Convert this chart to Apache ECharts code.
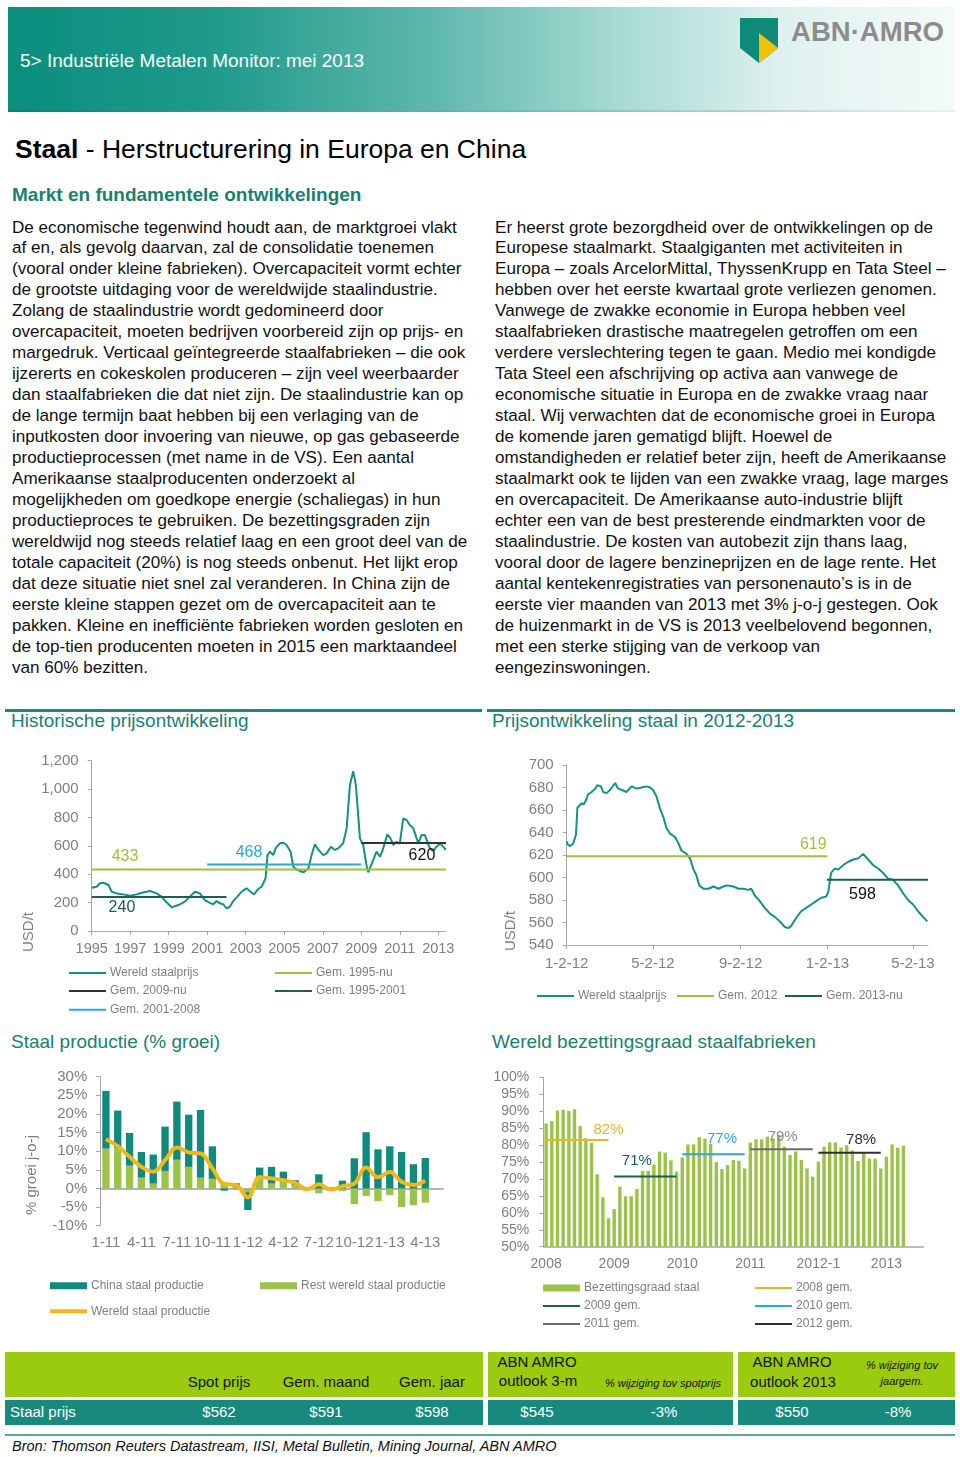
<!DOCTYPE html>
<html><head><meta charset="utf-8">
<script src="https://cdn.jsdelivr.net/npm/echarts/dist/echarts.min.js"></script>
<style>
html,body{margin:0;padding:0;background:#fff;}
body{width:960px;height:1457px;position:relative;overflow:hidden;font-family:"Liberation Sans",Arial,sans-serif;color:#000;}
.abs{position:absolute;}
.body{font-size:17.1px;line-height:20.95px;white-space:pre;color:#111;}
.sect{font-size:19px;color:#1a8070;}
.rule{position:absolute;height:3px;background:#1a8a7a;}
.chart{position:absolute;}
</style>
</head><body>
<script>
// ---------------- DATA ----------------
// Chart 1: historical world steel price (decimal year, USD/t)
const histPrice = [
 [1995.00,305],[1995.26,312],[1995.43,336],[1995.61,340],[1995.87,324],[1996.04,277],[1996.30,265],[1996.64,258],
 [1996.99,249],[1997.34,258],[1997.60,270],[1998.03,282],[1998.37,265],[1998.63,242],[1998.80,215],[1999.15,167],
 [1999.50,183],[1999.84,207],[2000.10,242],[2000.36,277],[2000.62,265],[2000.88,218],[2001.11,200],[2001.31,188],
 [2001.49,211],[2001.66,195],[2001.83,188],[2002.01,160],[2002.18,171],[2002.35,211],[2002.56,242],[2002.79,277],
 [2003.04,301],[2003.25,277],[2003.43,258],[2003.65,296],[2003.82,312],[2004.03,371],[2004.13,535],[2004.26,559],
 [2004.43,535],[2004.57,587],[2004.78,618],[2004.95,622],[2005.12,606],[2005.33,559],[2005.47,453],[2005.59,437],
 [2005.81,423],[2005.99,413],[2006.25,441],[2006.42,535],[2006.59,611],[2006.76,575],[2007.02,535],[2007.20,547],
 [2007.42,594],[2007.63,571],[2007.80,582],[2008.06,618],[2008.24,723],[2008.41,1029],[2008.58,1125],[2008.72,1029],
 [2008.84,817],[2008.93,653],[2009.10,606],[2009.27,465],[2009.36,413],[2009.62,500],[2009.79,559],[2009.97,523],
 [2010.14,582],[2010.35,681],[2010.52,653],[2010.66,606],[2010.83,629],[2011.00,615],[2011.18,794],[2011.35,782],
 [2011.52,747],[2011.70,723],[2011.96,618],[2012.13,676],[2012.30,676],[2012.56,582],[2012.73,564],[2012.91,594],
 [2013.11,618],[2013.25,594],[2013.39,571]
];
const histStartYear = 1995;
const histEndYear = 2013.4;
const histYearTicks = [1995,1997,1999,2001,2003,2005,2007,2009,2011,2013];
// averages
const histAvgNames = ['Gem. 1995-nu','Gem. 2009-nu','Gem. 1995-2001','Gem. 2001-2008'];
const histAvgValues = [433, 620, 240, 468];
const histAvgFrom = [1995.0, 2009.0, 1995.0, 2001.0];
const histAvgTo = [2013.4, 2013.4, 2002.0, 2009.0];
const histAvgLabelAt = [1996.73, 2012.15, 1996.57, 2003.17];

// Chart 2: price 2012-2013 (days since 2 Jan 2012, USD/t)
const recentDays = [0,2,5,9,13,15,18,21,24,28,30,35,40,43,48,51,56,61,68,72,77,84,91,98,105,112,117,121,126,131,136,140,145,152,157,161,168,173,178,182,186,192,199,206,213,220,225,234,241,248,255,259,264,271,278,285,292,299,306,311,315,322,329,336,343,350,357,364,367,371,376,381,388,395,402,409,416,423,430,437,444,451,458,465,472,479,486,493,500,506];
const recentPrice = [632,629,628,630,638,662,664,666,665,670,674,676,679,682,681,676,675,678,684,679,678,676,681,679,680,681,680,678,672,661,653,644,639,636,630,624,621,617,607,602,593,590,590,592,590,592,593,592,590,590,589,590,584,579,573,568,565,561,556,555,557,564,570,573,576,579,582,583,587,604,608,607,611,614,616,617,621,616,611,608,604,599,598,593,586,580,576,570,565,561];
const recentTickDays = [0,121,244,366,486];
const recentTickLabels = ['1-2-12','5-2-12','9-2-12','1-2-13','5-2-13'];
const recentAvgNames = ['Gem. 2012','Gem. 2013-nu'];
const recentAvgValues = [619, 598];
const recentAvgFrom = [0, 365];
const recentAvgTo = [366, 507];
const recentAvgLabelAt = [346, 415];

// Chart 3: steel production growth (% y-o-y)
const prodMonths = ['1-11','2-11','3-11','4-11','5-11','6-11','7-11','8-11','9-11','10-11','11-11','12-11',
 '1-12','2-12','3-12','4-12','5-12','6-12','7-12','8-12','9-12','10-12','11-12','12-12','1-13','2-13','3-13','4-13','5-13'];
const prodRest  = [10.7,11.0,6.1,2.9,1.3,4.7,7.7,5.8,2.9,2.6,1.2,0.8,-1.0,3.0,1.3,2.3,1.0,-0.4,-1.3,-0.5,-0.7,-4.2,-2.0,-3.4,-1.8,-5.0,-4.5,-3.8,null];
const prodChina = [15.5,9.9,8.8,6.9,7.8,11.9,15.6,14.0,18.2,8.7,-0.6,0.6,-4.8,2.6,4.5,2.2,1.2,0.4,3.8,0.3,2.1,8.1,15.1,10.5,11.3,9.8,6.5,8.2,null];
const prodWorld = [13.2,11.4,8.5,5.8,4.5,7.6,11.0,9.7,9.4,5.4,1.2,0.9,-2.4,3.0,2.7,2.2,1.5,-0.2,1.1,-0.3,0.6,1.3,5.6,3.0,4.4,1.8,0.9,2.1,null];

// Chart 4: capacity utilisation (%), monthly from 2008-01
const utilYears = [2008,2009,2010,2011,2012,2013];
const utilYearLabels = ['2008','2009','2010','2011','2012-1','2013'];
const utilValues = [86.4,87.1,90.2,90.4,90.1,90.6,85.6,82.0,80.7,71.4,64.6,58.4,
 61.1,67.7,64.9,64.9,67.0,72.4,72.4,74.3,78.1,77.8,75.5,72.2,
 76.3,80.2,80.2,82.3,81.9,80.3,75.0,72.9,74.1,75.6,75.4,73.1,
 80.7,81.7,81.7,82.5,82.0,83.0,79.5,77.1,78.1,75.6,73.1,70.7,
 75.1,79.5,80.8,80.8,79.3,80.0,78.4,75.3,77.6,76.0,76.0,73.1,
 76.6,80.2,79.2,79.8];
const utilMonthsTotal = 67;
const utilAvgNames = ['2008 gem.','2009 gem.','2010 gem.','2011 gem.','2012 gem.'];
const utilAvgValues = [81.5,70.7,77.3,78.8,77.7];
const utilAvgLabels = ['82%','71%','77%','79%','78%'];
const utilAvgLabelIdx = [11,16,31,41,55];

// Table
const tblHead = ['Spot prijs','Gem. maand','Gem. jaar'];
const tblRow = ['$562','$591','$598','$545','-3%','$550','-8%'];
</script>

<!-- header -->
<div class="abs" style="left:8px;top:7px;width:947px;height:105px;background:linear-gradient(to right,#0a8e7d 0%,#1f9a8b 22%,#5fb8ad 45%,#a9dbd4 65%,#dff1ee 82%,#f4fafa 100%);"></div>
<div class="abs" style="left:8px;top:110px;width:947px;height:2px;background:linear-gradient(to right,#0b7f70,#7cc3b9 60%,#e5f3f1);"></div>
<svg class="abs" style="left:0;top:0" width="960" height="120">
  <text x="20" y="67" font-family="Liberation Sans, Arial" font-size="18" fill="#fff" textLength="344" lengthAdjust="spacingAndGlyphs">5&gt; Industriële Metalen Monitor: mei 2013</text>
  <polygon points="740,18 778,18 778,48 759,63 740,48" fill="#0f8a78"/>
  <polygon points="759,33 778,48 759,63" fill="#f4c100"/>
  <text x="791" y="41" font-family="Liberation Sans, Arial" font-weight="bold" font-size="27" fill="#8c8c8c" textLength="153" lengthAdjust="spacingAndGlyphs">ABN·AMRO</text>
</svg>

<div class="abs" style="left:15px;top:133px;font-size:26.5px;line-height:32px;white-space:pre;"><b>Staal</b> - Herstructurering in Europa en China</div>
<div class="abs" style="left:12px;top:184px;font-size:19px;font-weight:bold;color:#1a7f6e;white-space:pre;">Markt en fundamentele ontwikkelingen</div>

<div class="abs body" style="left:12px;top:217.5px;">De economische tegenwind houdt aan, de marktgroei vlakt
af en, als gevolg daarvan, zal de consolidatie toenemen
(vooral onder kleine fabrieken). Overcapaciteit vormt echter
de grootste uitdaging voor de wereldwijde staalindustrie.
Zolang de staalindustrie wordt gedomineerd door
overcapaciteit, moeten bedrijven voorbereid zijn op prijs- en
margedruk. Verticaal geïntegreerde staalfabrieken – die ook
ijzererts en cokeskolen produceren – zijn veel weerbaarder
dan staalfabrieken die dat niet zijn. De staalindustrie kan op
de lange termijn baat hebben bij een verlaging van de
inputkosten door invoering van nieuwe, op gas gebaseerde
productieprocessen (met name in de VS). Een aantal
Amerikaanse staalproducenten onderzoekt al
mogelijkheden om goedkope energie (schaliegas) in hun
productieproces te gebruiken. De bezettingsgraden zijn
wereldwijd nog steeds relatief laag en een groot deel van de
totale capaciteit (20%) is nog steeds onbenut. Het lijkt erop
dat deze situatie niet snel zal veranderen. In China zijn de
eerste kleine stappen gezet om de overcapaciteit aan te
pakken. Kleine en inefficiënte fabrieken worden gesloten en
de top-tien producenten moeten in 2015 een marktaandeel
van 60% bezitten.</div>
<div class="abs body" style="left:495px;top:217.5px;">Er heerst grote bezorgdheid over de ontwikkelingen op de
Europese staalmarkt. Staalgiganten met activiteiten in
Europa – zoals ArcelorMittal, ThyssenKrupp en Tata Steel –
hebben over het eerste kwartaal grote verliezen genomen.
Vanwege de zwakke economie in Europa hebben veel
staalfabrieken drastische maatregelen getroffen om een
verdere verslechtering tegen te gaan. Medio mei kondigde
Tata Steel een afschrijving op activa aan vanwege de
economische situatie in Europa en de zwakke vraag naar
staal. Wij verwachten dat de economische groei in Europa
de komende jaren gematigd blijft. Hoewel de
omstandigheden er relatief beter zijn, heeft de Amerikaanse
staalmarkt ook te lijden van een zwakke vraag, lage marges
en overcapaciteit. De Amerikaanse auto-industrie blijft
echter een van de best presterende eindmarkten voor de
staalindustrie. De kosten van autobezit zijn thans laag,
vooral door de lagere benzineprijzen en de lage rente. Het
aantal kentekenregistraties van personenauto’s is in de
eerste vier maanden van 2013 met 3% j-o-j gestegen. Ook
de huizenmarkt in de VS is 2013 veelbelovend begonnen,
met een sterke stijging van de verkoop van
eengezinswoningen.</div>

<div class="rule" style="left:5px;top:709px;width:477px;"></div>
<div class="rule" style="left:487px;top:709px;width:468px;"></div>
<div class="abs sect" style="left:11px;top:710px;">Historische prijsontwikkeling</div>
<div class="abs sect" style="left:492px;top:710px;">Prijsontwikkeling staal in 2012-2013</div>
<div class="abs sect" style="left:11px;top:1031px;">Staal productie (% groei)</div>
<div class="abs sect" style="left:492px;top:1031px;">Wereld bezettingsgraad staalfabrieken</div>

<div id="c1" class="chart" style="left:0;top:745px;width:480px;height:285px;"></div>
<div id="c2" class="chart" style="left:490px;top:745px;width:470px;height:265px;"></div>
<div id="c3" class="chart" style="left:0;top:1060px;width:480px;height:270px;"></div>
<div id="c4" class="chart" style="left:490px;top:1060px;width:470px;height:275px;"></div>

<!-- table -->
<div class="abs" style="left:5px;top:1352px;width:478px;height:45px;background:#9acb0e;"></div>
<div class="abs" style="left:488px;top:1352px;width:245px;height:45px;background:#9acb0e;"></div>
<div class="abs" style="left:738px;top:1352px;width:217px;height:45px;background:#9acb0e;"></div>
<div class="abs" style="left:5px;top:1400px;width:478px;height:25px;background:#178a7d;"></div>
<div class="abs" style="left:488px;top:1400px;width:245px;height:25px;background:#178a7d;"></div>
<div class="abs" style="left:738px;top:1400px;width:217px;height:25px;background:#178a7d;"></div>
<div class="abs" style="left:5px;top:1434px;width:950px;height:2px;background:#5aa69d;"></div>
<div id="tbl"></div>
<div class="abs" style="left:12px;top:1438px;font-size:14.5px;font-style:italic;white-space:pre;color:#111;">Bron: Thomson Reuters Datastream, IISI, Metal Bulletin, Mining Journal, ABN AMRO</div>

<script>
// ---- table text ----
(function(){
  const t = document.getElementById('tbl');
  function put(txt, cx, cy, size, color, extra){
    const d = document.createElement('div');
    d.className='abs';
    d.style.cssText = 'left:'+(cx-100)+'px;width:200px;text-align:center;top:'+(cy-size*0.6)+'px;font-size:'+size+'px;line-height:'+(size*1.2)+'px;color:'+color+';white-space:pre;'+(extra||'');
    d.textContent = txt; t.appendChild(d);
  }
  const hx = [219,326,432];
  tblHead.forEach((h,i)=>put(h,hx[i],1382,15,'#111'));
  put('ABN AMRO',537,1362,15,'#111'); put('outlook 3-m',538,1381,15,'#111');
  put('% wijziging tov spotprijs',663,1384,11,'#111','font-style:italic;');
  put('ABN AMRO',792,1362,15,'#111'); put('outlook 2013',793,1382,15,'#111');
  put('% wijziging tov',902,1366,11,'#111','font-style:italic;'); put('jaargem.',902,1382,11,'#111','font-style:italic;');
  const d = document.createElement('div'); d.className='abs';
  d.style.cssText='left:10px;top:1403px;font-size:15px;color:#fff;'; d.textContent='Staal prijs'; t.appendChild(d);
  const rx = [219,326,432,537,664,792,898];
  tblRow.forEach((v,i)=>put(v,rx[i],1412,15,'#fff'));
})();

const GRAY = '#7f7f7f';
const AXC = '#a6a6a6';
const FONT = 'Liberation Sans, Arial';
const gridBase = {containLabel:false, outerBoundsMode:'none'};
function legendItem(name, left, cy, extra){
  return Object.assign({data:[name], left:left, top:cy-7, padding:0, itemWidth:37, itemHeight:2, icon:'rect',
    itemGap:0, textStyle:{color:GRAY, fontSize:12, fontFamily:FONT, padding:[0,0,0,-1]},
    selectedMode:false}, extra||{});
}
const lineBase = {type:'line', symbol:'circle', symbolSize:0.01, showSymbol:true, showAllSymbol:true, silent:true, z:3};

// ---------------- Chart 1 ----------------
(function(){
  const c = echarts.init(document.getElementById('c1'));
  const cols = ['#9fc13c','#333333','#1e5e55','#2ba6d6'];
  const labPos = ['top','bottom','bottom','top'];
  const labDist = [5,5,3,4];
  const avgSeries = histAvgNames.map((n,i)=>Object.assign({}, lineBase, {
    name:n, lineStyle:{color:cols[i], width:2}, itemStyle:{color:cols[i]},
    data:[[histAvgFrom[i]-histStartYear,histAvgValues[i]],
          {value:[histAvgLabelAt[i]-histStartYear,histAvgValues[i]], label:{show:true, position:labPos[i], distance:labDist[i], formatter:String(histAvgValues[i]), color: i===1?'#111':cols[i], fontSize:16, fontFamily:FONT}},
          [histAvgTo[i]-histStartYear,histAvgValues[i]]]
  }));
  c.setOption({
    animation:false,
    grid:Object.assign({left:91.7, top:15.7, width:354.3, height:170.3}, gridBase),
    xAxis:{type:'value', min:0, max:histEndYear-histStartYear,
      axisLine:{lineStyle:{color:AXC}}, splitLine:{show:false},
      axisTick:{customValues:histYearTicks.map(y=>y-histStartYear), length:4, lineStyle:{color:AXC}},
      axisLabel:{customValues:histYearTicks.map(y=>y-histStartYear), formatter:v=>String(Math.round(v+histStartYear)), color:GRAY, fontSize:14.5, margin:10, fontFamily:FONT}},
    yAxis:{type:'value', min:0, max:1200, interval:200,
      axisLine:{show:true, lineStyle:{color:AXC}}, splitLine:{show:false},
      axisTick:{show:true, length:4, lineStyle:{color:AXC}},
      axisLabel:{formatter:v=>v.toLocaleString('en-US'), color:GRAY, fontSize:15, margin:13, fontFamily:FONT}},
    legend:[
      legendItem('Wereld staalprijs',69,229),
      legendItem('Gem. 1995-nu',275,229),
      legendItem('Gem. 2009-nu',69,247),
      legendItem('Gem. 1995-2001',275,247),
      legendItem('Gem. 2001-2008',69,265.7)
    ],
    graphic:[{type:'text', x:29, y:187, rotation:Math.PI/2, style:{text:'USD/t', fill:GRAY, font:'15px Liberation Sans, Arial', align:'center', verticalAlign:'middle'}}],
    series:[{name:'Wereld staalprijs', type:'line', symbol:'none', z:2,
      lineStyle:{color:'#16917f', width:2}, itemStyle:{color:'#16917f'},
      data:histPrice.map(p=>[p[0]-histStartYear,p[1]])}].concat(avgSeries)
  });
})();

// ---------------- Chart 2 ----------------
(function(){
  const c = echarts.init(document.getElementById('c2'));
  const cols = ['#9fc13c','#1e5e55'];
  const labPos = ['top','bottom'];
  const labDist = [4,7];
  const avgSeries = recentAvgNames.map((n,i)=>Object.assign({}, lineBase, {
    name:n, lineStyle:{color:cols[i], width:2}, itemStyle:{color:cols[i]},
    data:[[recentAvgFrom[i],recentAvgValues[i]],
      {value:[recentAvgLabelAt[i],recentAvgValues[i]], label:{show:true, position:labPos[i], distance:labDist[i], formatter:String(recentAvgValues[i]), color: i===1?'#111':cols[i], fontSize:16, fontFamily:FONT}},
      [recentAvgTo[i],recentAvgValues[i]]]
  }));
  c.setOption({
    animation:false,
    grid:Object.assign({left:76.7, top:20, width:361.3, height:180}, gridBase),
    xAxis:{type:'value', min:0, max:507,
      axisLine:{lineStyle:{color:AXC}}, splitLine:{show:false},
      axisTick:{customValues:recentTickDays, length:4, lineStyle:{color:AXC}},
      axisLabel:{customValues:recentTickDays, formatter:v=>recentTickLabels[recentTickDays.indexOf(v)]||'', color:GRAY, fontSize:15, margin:11, fontFamily:FONT}},
    yAxis:{type:'value', min:540, max:700, interval:20,
      axisLine:{show:true, lineStyle:{color:AXC}}, splitLine:{show:false},
      axisTick:{show:true, length:4, lineStyle:{color:AXC}},
      axisLabel:{color:GRAY, fontSize:15, margin:13, fontFamily:FONT}},
    legend:[
      legendItem('Wereld staalprijs',47,252),
      legendItem('Gem. 2012',187,252),
      legendItem('Gem. 2013-nu',295,252)
    ],
    graphic:[{type:'text', x:21, y:186, rotation:Math.PI/2, style:{text:'USD/t', fill:GRAY, font:'15px Liberation Sans, Arial', align:'center', verticalAlign:'middle'}}],
    series:[{name:'Wereld staalprijs', type:'line', symbol:'none', z:2,
      lineStyle:{color:'#16917f', width:2}, itemStyle:{color:'#16917f'},
      data:recentDays.map((d,i)=>[d,recentPrice[i]])}].concat(avgSeries)
  });
})();

// ---------------- Chart 3 ----------------
(function(){
  const c = echarts.init(document.getElementById('c3'));
  c.setOption({
    animation:false,
    grid:Object.assign({left:100, top:16.7, width:343, height:149}, gridBase),
    xAxis:{type:'category', data:prodMonths, boundaryGap:true,
      axisLine:{onZero:true, lineStyle:{color:'#9a9a9a', width:1.5}},
      axisTick:{interval:2, length:4, lineStyle:{color:'#9a9a9a'}},
      axisLabel:{interval:2, color:GRAY, fontSize:15, margin:10, fontFamily:FONT, hideOverlap:false}},
    yAxis:{type:'value', min:-10, max:30, interval:5,
      axisLine:{show:true, lineStyle:{color:AXC}}, splitLine:{show:false},
      axisTick:{show:true, length:4, lineStyle:{color:AXC}},
      axisLabel:{formatter:v=>v+'%', color:GRAY, fontSize:15, margin:12.7, fontFamily:FONT}},
    legend:[
      legendItem('China staal productie',50,226.7,{itemHeight:7}),
      legendItem('Rest wereld staal productie',260,226.7,{itemHeight:7}),
      legendItem('Wereld staal productie',50,252.3,{itemHeight:4})
    ],
    graphic:[{type:'text', x:32, y:115, rotation:Math.PI/2, style:{text:'% groei j-o-j', fill:GRAY, font:'15px Liberation Sans, Arial', align:'center', verticalAlign:'middle'}}],
    series:[
      {name:'Rest wereld staal productie', type:'bar', stack:'p', barWidth:'62%', itemStyle:{color:'#9bc349'}, data:prodRest},
      {name:'China staal productie', type:'bar', stack:'p', barWidth:'62%', itemStyle:{color:'#0f8a7d'}, data:prodChina},
      {name:'Wereld staal productie', type:'line', smooth:0.4, symbol:'none', z:5,
        lineStyle:{color:'#f1b81c', width:4}, itemStyle:{color:'#f1b81c'}, data:prodWorld}
    ]
  });
})();

// ---------------- Chart 4 ----------------
(function(){
  const c = echarts.init(document.getElementById('c4'));
  const months = [];
  for (let i=0;i<utilMonthsTotal;i++){ months.push((utilYears[0]+Math.floor(i/12))+'-'+(i%12+1)); }
  const vals = months.map((m,i)=> i<utilValues.length ? utilValues[i] : null);
  const cols = ['#e8b61e','#1a5e55','#2aa7dc','#6b6b6b','#2e2e2e'];
  const labOffsets = [[0,0],[0,0],[0,0],[4,0],[3,0]];
  const labDist = [3,8,7.7,4.6,5.3];
  const avgSeries = utilAvgNames.map((n,k)=>Object.assign({}, lineBase, {
    name:n, lineStyle:{color:cols[k], width:2}, itemStyle:{color:cols[k]},
    data:months.map((m,i)=>{
      if (i<k*12 || i>k*12+11) return null;
      if (i===utilAvgLabelIdx[k]) return {value:utilAvgValues[k], label:{show:true, position:'top', distance:labDist[k], offset:labOffsets[k], formatter:utilAvgLabels[k], color:cols[k]==='#6b6b6b'?'#8a8a8a':cols[k], fontSize:15, fontFamily:FONT}};
      return utilAvgValues[k];
    })
  }));
  c.setOption({
    animation:false,
    grid:Object.assign({left:53.3, top:17.3, width:380, height:169.4}, gridBase),
    xAxis:{type:'category', data:months, boundaryGap:true,
      axisLine:{lineStyle:{color:AXC, width:1.5}},
      axisTick:{interval:11, length:4, lineStyle:{color:AXC}},
      axisLabel:{interval:11, formatter:(v,i)=>utilYearLabels[Math.floor(i/12)]||'', color:GRAY, fontSize:14, margin:10, fontFamily:FONT}},
    yAxis:{type:'value', min:50, max:100, interval:5,
      axisLine:{show:true, lineStyle:{color:AXC}}, splitLine:{show:false},
      axisTick:{show:true, length:4, lineStyle:{color:AXC}},
      axisLabel:{formatter:v=>v+'%', color:GRAY, fontSize:14, margin:14, fontFamily:FONT}},
    legend:[
      legendItem('Bezettingsgraad staal',53,229,{itemHeight:7}),
      legendItem('2008 gem.',265,229),
      legendItem('2009 gem.',53,247),
      legendItem('2010 gem.',265,247),
      legendItem('2011 gem.',53,265),
      legendItem('2012 gem.',265,265)
    ],
    series:[{name:'Bezettingsgraad staal', type:'bar', barWidth:'60%', itemStyle:{color:'#9bc34a'}, data:vals}].concat(avgSeries)
  });
})();
</script>
</body></html>
